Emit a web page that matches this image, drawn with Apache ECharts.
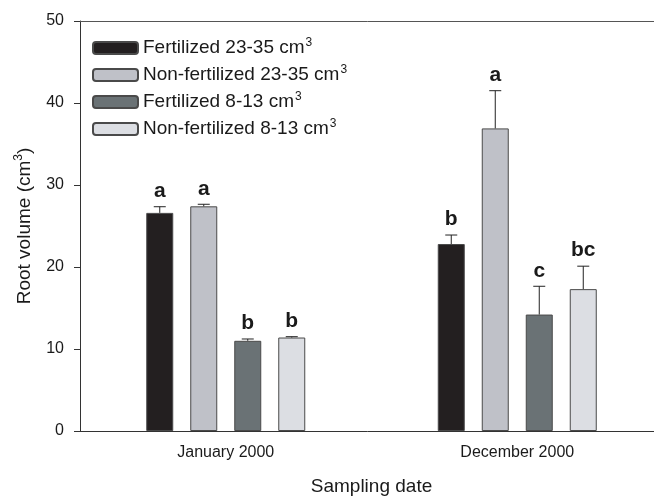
<!DOCTYPE html>
<html><head><meta charset="utf-8">
<script src="https://cdn.jsdelivr.net/npm/echarts@6/dist/echarts.min.js"></script>
<style>html,body{margin:0;padding:0;background:#fff}#c{width:654px;height:497px}</style>
</head><body><div id="c"></div>
<script>
const categories = ['January 2000', 'December 2000'];
const seriesNames = ['Fertilized 23-35 cm', 'Non-fertilized 23-35 cm', 'Fertilized 8-13 cm', 'Non-fertilized 8-13 cm'];
const fert2335 = [26.6, 22.8];
const nonFert2335 = [27.4, 36.9];
const fert813 = [11.0, 14.2];
const nonFert813 = [11.4, 17.3];
const errFert2335 = [0.75, 1.1];
const errNonFert2335 = [0.25, 4.6];
const errFert813 = [0.22, 3.45];
const errNonFert813 = [0.1, 2.8];
const letFert2335 = ['a', 'b'];
const letNonFert2335 = ['a', 'a'];
const letFert813 = ['b', 'c'];
const letNonFert813 = ['b', 'bc'];
const yTicks = [0, 10, 20, 30, 40, 50];

const values = [fert2335, nonFert2335, fert813, nonFert813];
const errs = [errFert2335, errNonFert2335, errFert813, errNonFert813];
const lets = [letFert2335, letNonFert2335, letFert813, letNonFert813];
const colors = ['#231f20', '#bfc1c8', '#6a7275', '#dcdee3'];
const FONT = '"Liberation Sans", Arial, Helvetica, sans-serif';
const BW = 27, GAP = 17;

const chart = echarts.init(document.getElementById('c'), null, {renderer: 'canvas'});
const series = [];
values.forEach((v, i) => {
  series.push({
    name: seriesNames[i], type: 'bar', data: v, barWidth: BW, barGap: (GAP / BW * 100) + '%',
    itemStyle: {color: colors[i], borderColor: '#4a4a4a', borderWidth: 1},
    z: 2
  });
});
values.forEach((v, i) => {
  series.push({
    type: 'custom', silent: true, z: 3,
    data: v.map((val, k) => [k, val, errs[i][k]]),
    renderItem: function (params, api) {
      const k = api.value(0), val = api.value(1), e = api.value(2);
      const off = (i - 1.5) * (BW + GAP);
      const p0 = api.coord([k, val]);
      const p1 = api.coord([k, val + e]);
      const x = p0[0] + off;
      return {
        type: 'group', children: [
          {type: 'line', shape: {x1: x, y1: p0[1], x2: x, y2: p1[1]}, style: {stroke: '#222', lineWidth: 1}},
          {type: 'line', shape: {x1: x - 6, y1: p1[1], x2: x + 6, y2: p1[1]}, style: {stroke: '#222', lineWidth: 1}},
          {type: 'text', x: x, y: p1[1] - 5, style: {text: lets[i][params.dataIndex], fill: '#1a1a1a',
            font: 'bold 21px ' + FONT, align: 'center', verticalAlign: 'bottom'}}
        ]
      };
    }
  });
});

chart.setOption({
  animation: false,
  textStyle: {fontFamily: FONT},
  grid: {left: 80, right: -9, top: 21, bottom: 66, outerBoundsMode: 'none', containLabel: false},
  legend: {
    orient: 'vertical', left: 92, top: 37, padding: 0, itemWidth: 45, itemHeight: 12, itemGap: 6.5, itemTextGap: 11,
    data: seriesNames,
    formatter: n => '{n|' + n + '}{s|3}',
    textStyle: {
      color: '#1a1a1a', fontFamily: FONT,
      rich: {
        n: {fontSize: 19, fontFamily: FONT, color: '#1a1a1a', lineHeight: 22},
        s: {fontSize: 12, fontFamily: FONT, color: '#1a1a1a', verticalAlign: 'top', lineHeight: 22, padding: [0, 0, 0, 1]}
      }
    }
  },
  xAxis: [{
    type: 'category', data: categories, boundaryGap: true,
    name: 'Sampling date', nameLocation: 'middle', nameGap: 46,
    nameTextStyle: {fontSize: 19, color: '#1a1a1a', fontFamily: FONT},
    axisLine: {lineStyle: {color: '#333', width: 1}},
    axisTick: {alignWithLabel: true, length: 5, lineStyle: {color: '#333'}},
    axisLabel: {fontSize: 16, color: '#1a1a1a', margin: 14, fontFamily: FONT}
  }, {
    type: 'category', data: categories, position: 'top',
    axisLine: {show: true, lineStyle: {color: '#555', width: 1}},
    axisTick: {show: false}, axisLabel: {show: false}
  }],
  yAxis: {
    type: 'value', min: 0, max: 50, interval: 10,
    name: '{n|Root volume (cm}{s|3}{n|)}', nameLocation: 'middle', nameGap: 44, nameRotate: 90,
    nameTextStyle: {
      rich: {
        n: {fontSize: 19, fontFamily: FONT, color: '#1a1a1a', lineHeight: 23},
        s: {fontSize: 12, fontFamily: FONT, color: '#1a1a1a', verticalAlign: 'top', lineHeight: 23}
      }
    },
    axisLine: {show: true, lineStyle: {color: '#333', width: 1}},
    axisTick: {show: true, length: 6, lineStyle: {color: '#333'}},
    axisLabel: {fontSize: 16, color: '#1a1a1a', margin: 16, fontFamily: FONT,
      formatter: v => yTicks.includes(v) ? String(v) : ''},
    splitLine: {show: false}
  },
  series: series
});
</script></body></html>
